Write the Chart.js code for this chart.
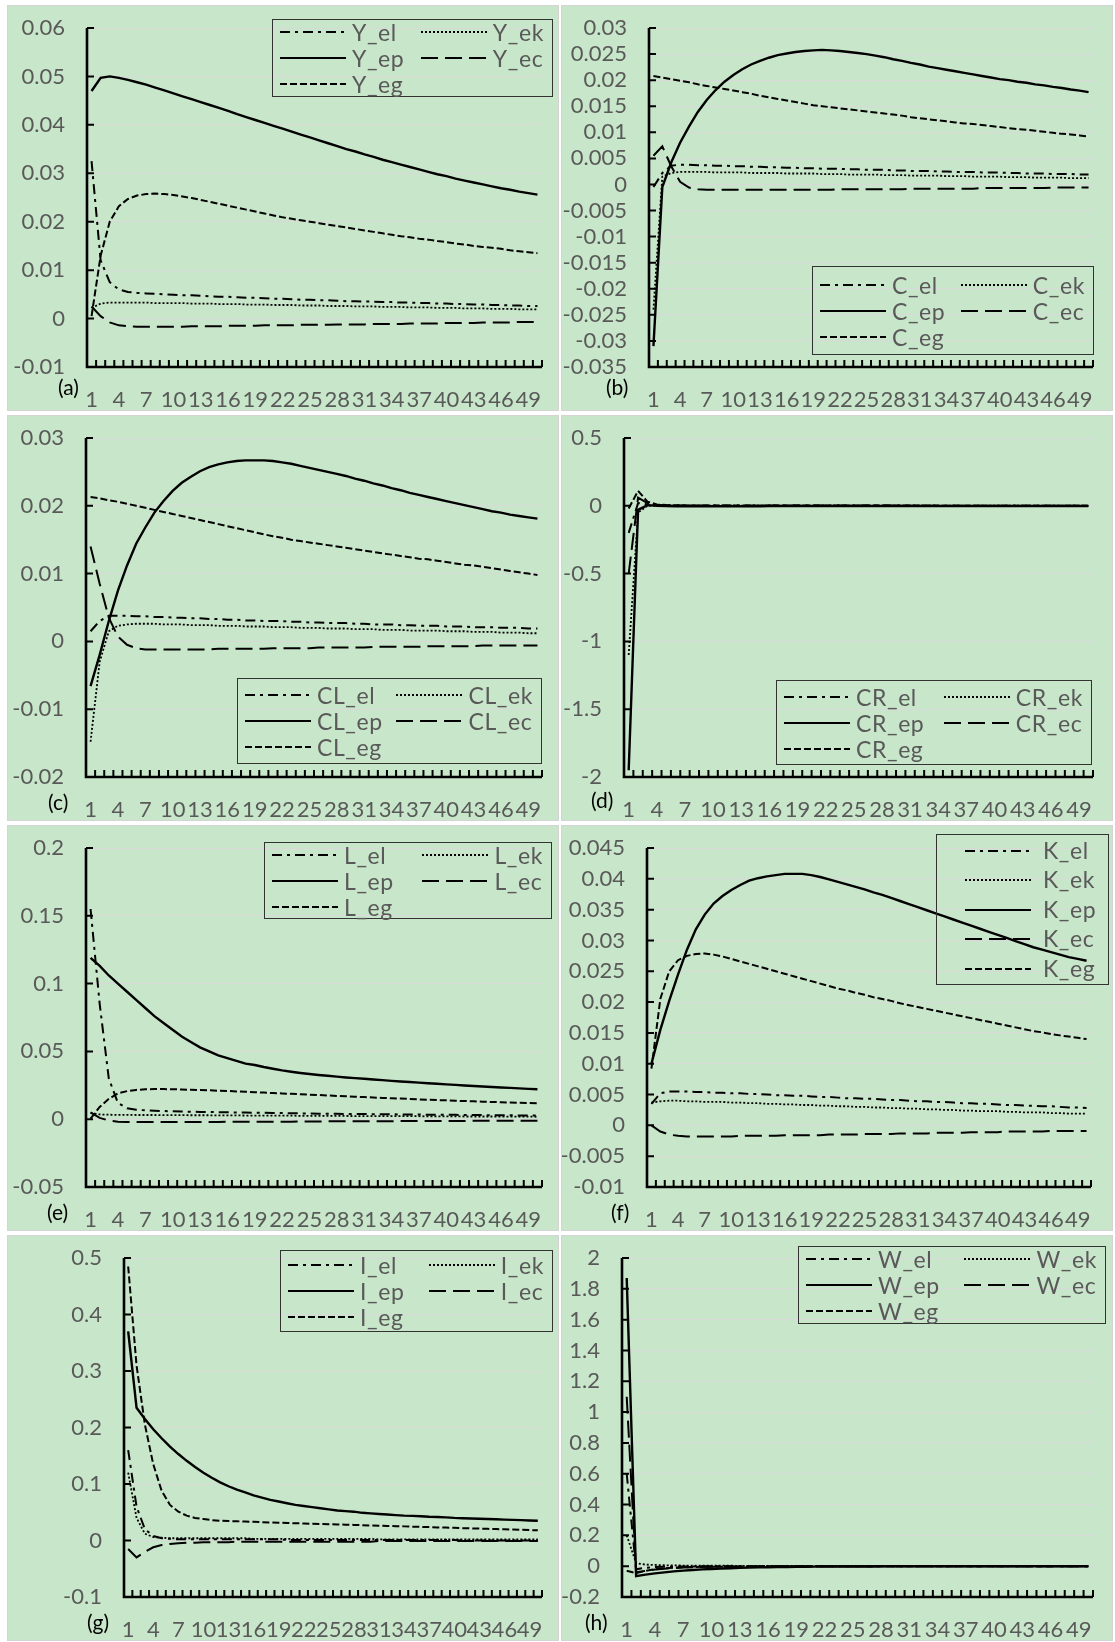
<!DOCTYPE html>
<html>
<head>
<meta charset="utf-8">
<script src="https://cdn.jsdelivr.net/npm/chart.js@4.4.1/dist/chart.umd.min.js"></script>
<style>
  body { margin: 0; background: #fff; width: 1115px; height: 1642px; position: relative; overflow: hidden; font-family: Lato, sans-serif; }
  .panel { position: absolute; width: 550px; height: 404px; background: #c8e6c9; box-shadow: 0 0 0 1px #d4d4d4; }
  .panel canvas { position: absolute; left: 0; top: 0; }
  .tag { position: absolute; font-size: 21px; line-height: 21px; color: #000; }
  .legend { position: absolute; box-sizing: border-box; border: 1px solid #333; display: grid; align-content: center; align-items: center; color: #595959; font-size: 23px; letter-spacing: 0.6px; line-height: 26px; }
  .legend.two { grid-template-columns: 66px 1fr 66px auto; column-gap: 6px; padding: 0 8px 0 7px; }
  .legend.one { grid-template-columns: 66px auto; column-gap: 12px; padding: 0 0 0 28px; line-height: 29.5px; }
  .legend svg { display: block; }
</style>
</head>
<body>
<script>
// periods on the x axis
const periods = ['1','2','3','4','5','6','7','8','9','10','11','12','13','14','15','16','17','18','19','20',
  '21','22','23','24','25','26','27','28','29','30','31','32','33','34','35','36','37','38','39','40',
  '41','42','43','44','45','46','47','48','49','50'];

// (a) Y
const Y_el = [0.0325,0.0120,0.0075,0.0060,0.0055,0.0053,0.0052,0.0051,0.0050,0.0049,
  0.0048,0.0048,0.0047,0.0046,0.0045,0.0045,0.0044,0.0043,0.0043,0.0042,
  0.0041,0.0041,0.0040,0.0039,0.0039,0.0038,0.0038,0.0037,0.0036,0.0036,
  0.0035,0.0035,0.0034,0.0034,0.0033,0.0033,0.0032,0.0032,0.0031,0.0031,
  0.0030,0.0030,0.0029,0.0029,0.0028,0.0028,0.0027,0.0027,0.0026,0.0026];
const Y_ek = [0.0022,0.0031,0.0033,0.0033,0.0033,0.0033,0.0033,0.0032,0.0032,0.0032,
  0.0032,0.0031,0.0031,0.0031,0.0030,0.0030,0.0030,0.0029,0.0029,0.0029,
  0.0028,0.0028,0.0028,0.0027,0.0027,0.0027,0.0026,0.0026,0.0026,0.0025,
  0.0025,0.0025,0.0024,0.0024,0.0024,0.0023,0.0023,0.0023,0.0022,0.0022,
  0.0022,0.0021,0.0021,0.0021,0.0020,0.0020,0.0020,0.0019,0.0019,0.0019];
const Y_ep = [0.0470,0.0497,0.0500,0.0497,0.0493,0.0488,0.0483,0.0477,0.0471,0.0465,
  0.0459,0.0453,0.0447,0.0441,0.0435,0.0429,0.0422,0.0416,0.0410,0.0404,
  0.0398,0.0392,0.0386,0.0380,0.0374,0.0368,0.0362,0.0356,0.0350,0.0345,
  0.0339,0.0334,0.0328,0.0323,0.0318,0.0313,0.0308,0.0303,0.0298,0.0294,
  0.0289,0.0285,0.0281,0.0277,0.0273,0.0269,0.0266,0.0262,0.0259,0.0256];
const Y_ec = [0.0025,0.0005,-0.0008,-0.0014,-0.0016,-0.0017,-0.0017,-0.0017,-0.0017,-0.0017,
  -0.0017,-0.0016,-0.0016,-0.0016,-0.0016,-0.0015,-0.0015,-0.0015,-0.0015,-0.0014,
  -0.0014,-0.0014,-0.0014,-0.0013,-0.0013,-0.0013,-0.0013,-0.0012,-0.0012,-0.0012,
  -0.0012,-0.0011,-0.0011,-0.0011,-0.0011,-0.0010,-0.0010,-0.0010,-0.0010,-0.0009,
  -0.0009,-0.0009,-0.0009,-0.0008,-0.0008,-0.0008,-0.0008,-0.0007,-0.0007,-0.0007];
const Y_eg = [0.0005,0.0130,0.0200,0.0232,0.0247,0.0254,0.0257,0.0258,0.0257,0.0255,
  0.0252,0.0249,0.0245,0.0241,0.0237,0.0233,0.0229,0.0225,0.0221,0.0217,
  0.0213,0.0209,0.0206,0.0203,0.0200,0.0197,0.0194,0.0191,0.0188,0.0185,
  0.0182,0.0179,0.0176,0.0173,0.0170,0.0168,0.0165,0.0163,0.0160,0.0158,
  0.0155,0.0153,0.0150,0.0148,0.0146,0.0144,0.0141,0.0139,0.0137,0.0135];

// (b) C
const C_el = [-0.0005,0.0022,0.0036,0.0038,0.0038,0.0037,0.0037,0.0036,0.0036,0.0035,
  0.0035,0.0034,0.0034,0.0033,0.0033,0.0032,0.0032,0.0031,0.0031,0.0030,
  0.0030,0.0030,0.0029,0.0029,0.0028,0.0028,0.0028,0.0027,0.0027,0.0026,
  0.0026,0.0026,0.0025,0.0025,0.0024,0.0024,0.0024,0.0023,0.0023,0.0023,
  0.0022,0.0022,0.0021,0.0021,0.0021,0.0020,0.0020,0.0020,0.0019,0.0019];
const C_ek = [-0.0240,0.0015,0.0022,0.0024,0.0024,0.0024,0.0024,0.0023,0.0023,0.0023,
  0.0023,0.0022,0.0022,0.0022,0.0022,0.0021,0.0021,0.0021,0.0021,0.0020,
  0.0020,0.0020,0.0019,0.0019,0.0019,0.0019,0.0018,0.0018,0.0018,0.0017,
  0.0017,0.0017,0.0017,0.0016,0.0016,0.0016,0.0015,0.0015,0.0015,0.0015,
  0.0014,0.0014,0.0014,0.0013,0.0013,0.0013,0.0013,0.0012,0.0012,0.0012];
const C_ep = [-0.0310,-0.0005,0.0042,0.0080,0.0111,0.0139,0.0162,0.0181,0.0197,0.0210,
  0.0221,0.0230,0.0237,0.0243,0.0248,0.0251,0.0254,0.0256,0.0257,0.0258,
  0.0257,0.0256,0.0254,0.0252,0.0250,0.0247,0.0244,0.0240,0.0237,0.0233,
  0.0230,0.0226,0.0223,0.0220,0.0217,0.0214,0.0211,0.0208,0.0205,0.0202,
  0.0200,0.0197,0.0195,0.0192,0.0190,0.0187,0.0185,0.0182,0.0180,0.0177];
const C_ec = [0.0055,0.0073,0.0035,0.0005,-0.0006,-0.0009,-0.0010,-0.0010,-0.0010,-0.0010,
  -0.0010,-0.0010,-0.0010,-0.0010,-0.0010,-0.0010,-0.0010,-0.0010,-0.0010,-0.0010,
  -0.0010,-0.0009,-0.0009,-0.0009,-0.0009,-0.0009,-0.0009,-0.0009,-0.0009,-0.0008,
  -0.0008,-0.0008,-0.0008,-0.0008,-0.0008,-0.0008,-0.0008,-0.0007,-0.0007,-0.0007,
  -0.0007,-0.0007,-0.0007,-0.0007,-0.0007,-0.0006,-0.0006,-0.0006,-0.0006,-0.0006];
const C_eg = [0.0208,0.0205,0.0202,0.0199,0.0196,0.0192,0.0189,0.0186,0.0183,0.0180,
  0.0177,0.0174,0.0170,0.0167,0.0164,0.0161,0.0158,0.0155,0.0152,0.0150,
  0.0148,0.0146,0.0144,0.0142,0.0140,0.0138,0.0136,0.0134,0.0132,0.0129,
  0.0127,0.0125,0.0123,0.0121,0.0119,0.0117,0.0116,0.0114,0.0112,0.0110,
  0.0108,0.0106,0.0105,0.0103,0.0101,0.0099,0.0097,0.0096,0.0094,0.0092];

// (c) CL
const CL_el = [0.0015,0.0030,0.0038,0.0038,0.0038,0.0037,0.0037,0.0036,0.0036,0.0035,
  0.0035,0.0034,0.0034,0.0033,0.0033,0.0032,0.0032,0.0031,0.0031,0.0030,
  0.0030,0.0030,0.0029,0.0029,0.0028,0.0028,0.0027,0.0027,0.0027,0.0026,
  0.0026,0.0025,0.0025,0.0025,0.0024,0.0024,0.0023,0.0023,0.0023,0.0022,
  0.0022,0.0022,0.0021,0.0021,0.0021,0.0020,0.0020,0.0020,0.0019,0.0019];
const CL_ek = [-0.0148,-0.0030,0.0015,0.0023,0.0025,0.0026,0.0026,0.0026,0.0025,0.0025,
  0.0025,0.0024,0.0024,0.0024,0.0023,0.0023,0.0023,0.0022,0.0022,0.0022,
  0.0021,0.0021,0.0021,0.0020,0.0020,0.0020,0.0019,0.0019,0.0019,0.0018,
  0.0018,0.0018,0.0017,0.0017,0.0017,0.0016,0.0016,0.0016,0.0016,0.0015,
  0.0015,0.0015,0.0014,0.0014,0.0014,0.0013,0.0013,0.0013,0.0012,0.0012];
const CL_ep = [-0.0066,-0.0020,0.0030,0.0075,0.0112,0.0144,0.0168,0.0190,0.0207,0.0222,
  0.0234,0.0243,0.0251,0.0257,0.0261,0.0264,0.0266,0.0267,0.0267,0.0267,
  0.0266,0.0264,0.0262,0.0259,0.0256,0.0253,0.0250,0.0247,0.0244,0.0240,
  0.0237,0.0233,0.0230,0.0226,0.0223,0.0219,0.0216,0.0213,0.0210,0.0207,
  0.0204,0.0201,0.0198,0.0195,0.0192,0.0190,0.0187,0.0185,0.0183,0.0181];
const CL_ec = [0.0140,0.0085,0.0035,0.0007,-0.0005,-0.0010,-0.0012,-0.0012,-0.0012,-0.0012,
  -0.0012,-0.0012,-0.0012,-0.0012,-0.0011,-0.0011,-0.0011,-0.0011,-0.0011,-0.0011,
  -0.0010,-0.0010,-0.0010,-0.0010,-0.0010,-0.0009,-0.0009,-0.0009,-0.0009,-0.0009,
  -0.0009,-0.0008,-0.0008,-0.0008,-0.0008,-0.0008,-0.0008,-0.0007,-0.0007,-0.0007,
  -0.0007,-0.0007,-0.0007,-0.0006,-0.0006,-0.0006,-0.0006,-0.0006,-0.0006,-0.0006];
const CL_eg = [0.0213,0.0211,0.0208,0.0206,0.0203,0.0200,0.0197,0.0194,0.0191,0.0188,
  0.0185,0.0182,0.0179,0.0176,0.0173,0.0170,0.0167,0.0164,0.0161,0.0158,
  0.0155,0.0153,0.0150,0.0148,0.0146,0.0144,0.0142,0.0140,0.0138,0.0136,
  0.0134,0.0132,0.0130,0.0128,0.0126,0.0124,0.0122,0.0121,0.0119,0.0117,
  0.0115,0.0113,0.0112,0.0110,0.0108,0.0106,0.0104,0.0102,0.0100,0.0098];

// (d) CR
const CR_el = [-0.200,0.020,0.010,0.005,0.004,0.003,0.003,0.002,0.002,0.002,
  0.002,0.002,0.002,0.002,0.002,0.002,0.002,0.002,0.002,0.002,
  0.002,0.002,0.002,0.002,0.002,0.002,0.002,0.002,0.002,0.002,
  0.001,0.001,0.001,0.001,0.001,0.001,0.001,0.001,0.001,0.001,
  0.001,0.001,0.001,0.001,0.001,0.001,0.001,0.001,0.001,0.001];
const CR_ek = [-1.100,-0.050,0.000,0.002,0.002,0.002,0.002,0.002,0.002,0.002,
  0.002,0.002,0.002,0.002,0.002,0.002,0.002,0.002,0.002,0.001,
  0.001,0.001,0.001,0.001,0.001,0.001,0.001,0.001,0.001,0.001,
  0.001,0.001,0.001,0.001,0.001,0.001,0.001,0.001,0.001,0.001,
  0.001,0.001,0.001,0.001,0.001,0.001,0.001,0.001,0.001,0.001];
const CR_ep = [-1.950,-0.030,0.005,0.000,-0.002,-0.003,-0.003,-0.003,-0.003,-0.003,
  -0.003,-0.003,-0.003,-0.003,-0.003,-0.002,-0.002,-0.002,-0.002,-0.002,
  -0.002,-0.002,-0.002,-0.002,-0.002,-0.002,-0.002,-0.002,-0.002,-0.002,
  -0.001,-0.001,-0.001,-0.001,-0.001,-0.001,-0.001,-0.001,-0.001,-0.001,
  -0.001,-0.001,-0.001,-0.001,-0.001,-0.001,-0.001,-0.001,-0.001,-0.001];
const CR_ec = [-0.500,0.060,0.020,0.005,0.002,0.001,0.000,0.000,-0.001,-0.001,
  -0.001,-0.001,-0.001,-0.001,-0.001,-0.001,-0.001,-0.001,-0.001,-0.001,
  -0.001,-0.001,-0.001,-0.001,-0.001,-0.001,-0.001,-0.001,-0.001,-0.001,
  -0.001,-0.001,-0.001,-0.001,-0.001,-0.001,-0.001,-0.001,-0.001,-0.001,
  -0.001,-0.001,-0.001,-0.001,-0.001,-0.001,-0.001,-0.001,-0.001,-0.001];
const CR_eg = [-0.020,0.110,0.030,0.010,0.005,0.004,0.003,0.003,0.003,0.003,
  0.003,0.003,0.003,0.003,0.003,0.002,0.002,0.002,0.002,0.002,
  0.002,0.002,0.002,0.002,0.002,0.002,0.002,0.002,0.002,0.002,
  0.002,0.002,0.002,0.001,0.001,0.001,0.001,0.001,0.001,0.001,
  0.001,0.001,0.001,0.001,0.001,0.001,0.001,0.001,0.001,0.001];

// (e) L
const L_el = [0.155,0.085,0.030,0.012,0.0080,0.0070,0.0065,0.0062,0.0060,0.0058,
  0.0056,0.0055,0.0054,0.0053,0.0052,0.0051,0.0050,0.0049,0.0048,0.0047,
  0.0046,0.0045,0.0044,0.0043,0.0042,0.0041,0.0041,0.0040,0.0039,0.0038,
  0.0038,0.0037,0.0036,0.0036,0.0035,0.0034,0.0034,0.0033,0.0033,0.0032,
  0.0032,0.0031,0.0031,0.0030,0.0030,0.0029,0.0029,0.0028,0.0028,0.0027];
const L_ek = [0.0045,0.0035,0.0033,0.0032,0.0032,0.0031,0.0031,0.0031,0.0030,0.0030,
  0.0030,0.0029,0.0029,0.0029,0.0028,0.0028,0.0028,0.0027,0.0027,0.0027,
  0.0026,0.0026,0.0026,0.0025,0.0025,0.0025,0.0024,0.0024,0.0024,0.0023,
  0.0023,0.0023,0.0023,0.0022,0.0022,0.0022,0.0022,0.0021,0.0021,0.0021,
  0.0021,0.0020,0.0020,0.0020,0.0020,0.0019,0.0019,0.0019,0.0019,0.0018];
const L_ep = [0.119,0.113,0.106,0.100,0.094,0.088,0.082,0.076,0.071,0.066,
  0.061,0.057,0.053,0.050,0.047,0.045,0.043,0.041,0.040,0.0385,
  0.0372,0.0360,0.0350,0.0341,0.0333,0.0326,0.0320,0.0314,0.0308,0.0303,
  0.0298,0.0293,0.0288,0.0283,0.0278,0.0274,0.0270,0.0265,0.0261,0.0257,
  0.0253,0.0249,0.0245,0.0241,0.0238,0.0234,0.0231,0.0227,0.0224,0.0221];
const L_ec = [0.0050,0.0010,-0.0010,-0.0018,-0.0020,-0.0021,-0.0021,-0.0021,-0.0021,-0.0021,
  -0.0020,-0.0020,-0.0020,-0.0020,-0.0020,-0.0019,-0.0019,-0.0019,-0.0019,-0.0018,
  -0.0018,-0.0018,-0.0018,-0.0017,-0.0017,-0.0017,-0.0016,-0.0016,-0.0016,-0.0016,
  -0.0015,-0.0015,-0.0015,-0.0015,-0.0014,-0.0014,-0.0014,-0.0014,-0.0013,-0.0013,
  -0.0013,-0.0013,-0.0012,-0.0012,-0.0012,-0.0012,-0.0011,-0.0011,-0.0011,-0.0011];
const L_eg = [0.0005,0.0090,0.0150,0.0190,0.0207,0.0216,0.0220,0.0222,0.0222,0.0221,
  0.0219,0.0217,0.0215,0.0213,0.0210,0.0208,0.0205,0.0202,0.0199,0.0196,
  0.0193,0.0190,0.0187,0.0184,0.0181,0.0178,0.0175,0.0172,0.0169,0.0166,
  0.0163,0.0160,0.0157,0.0154,0.0152,0.0149,0.0146,0.0144,0.0141,0.0139,
  0.0136,0.0134,0.0132,0.0129,0.0127,0.0125,0.0123,0.0121,0.0119,0.0117];

// (f) K
const K_el = [0.0035,0.0052,0.0055,0.0055,0.0055,0.0054,0.0054,0.0053,0.0053,0.0052,
  0.0052,0.0051,0.0051,0.0050,0.0049,0.0049,0.0048,0.0048,0.0047,0.0046,
  0.0046,0.0045,0.0044,0.0044,0.0043,0.0043,0.0042,0.0041,0.0041,0.0040,
  0.0039,0.0039,0.0038,0.0038,0.0037,0.0036,0.0036,0.0035,0.0035,0.0034,
  0.0033,0.0033,0.0032,0.0032,0.0031,0.0031,0.0030,0.0029,0.0029,0.0028];
const K_ek = [0.0037,0.0039,0.0040,0.0040,0.0039,0.0039,0.0038,0.0038,0.0038,0.0037,
  0.0037,0.0036,0.0036,0.0035,0.0035,0.0034,0.0034,0.0033,0.0033,0.0032,
  0.0032,0.0031,0.0031,0.0030,0.0030,0.0029,0.0029,0.0028,0.0028,0.0027,
  0.0027,0.0026,0.0026,0.0025,0.0025,0.0024,0.0024,0.0023,0.0023,0.0023,
  0.0022,0.0022,0.0021,0.0021,0.0021,0.0020,0.0020,0.0019,0.0019,0.0019];
const K_ep = [0.0100,0.0155,0.0202,0.0245,0.0285,0.0318,0.0342,0.0360,0.0372,0.0382,
  0.0390,0.0397,0.0401,0.0404,0.0406,0.0408,0.0408,0.0408,0.0406,0.0403,
  0.0399,0.0395,0.0391,0.0387,0.0383,0.0378,0.0374,0.0369,0.0364,0.0359,
  0.0354,0.0349,0.0344,0.0339,0.0334,0.0329,0.0324,0.0319,0.0314,0.0309,
  0.0304,0.0299,0.0294,0.0289,0.0285,0.0281,0.0277,0.0273,0.0270,0.0267];
const K_ec = [0.0000,-0.0010,-0.0015,-0.0017,-0.0018,-0.0018,-0.0018,-0.0018,-0.0018,-0.0018,
  -0.0017,-0.0017,-0.0017,-0.0017,-0.0017,-0.0016,-0.0016,-0.0016,-0.0016,-0.0016,
  -0.0015,-0.0015,-0.0015,-0.0015,-0.0014,-0.0014,-0.0014,-0.0014,-0.0013,-0.0013,
  -0.0013,-0.0013,-0.0012,-0.0012,-0.0012,-0.0012,-0.0011,-0.0011,-0.0011,-0.0011,
  -0.0010,-0.0010,-0.0010,-0.0010,-0.0010,-0.0009,-0.0009,-0.0009,-0.0009,-0.0009];
const K_eg = [0.0092,0.0205,0.0250,0.0268,0.0275,0.0278,0.0279,0.0277,0.0274,0.0270,
  0.0266,0.0262,0.0258,0.0254,0.0250,0.0246,0.0242,0.0238,0.0234,0.0230,
  0.0226,0.0222,0.0219,0.0215,0.0212,0.0208,0.0205,0.0202,0.0198,0.0195,
  0.0192,0.0189,0.0186,0.0183,0.0180,0.0177,0.0174,0.0171,0.0168,0.0165,
  0.0162,0.0159,0.0156,0.0153,0.0151,0.0148,0.0146,0.0144,0.0142,0.0140];

// (g) I
const I_el = [0.160,0.060,0.020,0.008,0.004,0.003,0.002,0.002,0.002,0.002,
  0.002,0.002,0.002,0.002,0.002,0.002,0.002,0.002,0.002,0.001,
  0.001,0.001,0.001,0.001,0.001,0.001,0.001,0.001,0.001,0.001,
  0.001,0.001,0.001,0.001,0.001,0.001,0.001,0.001,0.001,0.001,
  0.000,0.000,0.000,0.000,0.000,0.000,0.000,0.000,0.000,0.000];
const I_ek = [0.120,0.040,0.012,0.006,0.005,0.004,0.004,0.004,0.004,0.004,
  0.004,0.004,0.004,0.004,0.004,0.003,0.003,0.003,0.003,0.003,
  0.003,0.003,0.003,0.003,0.003,0.003,0.003,0.003,0.003,0.003,
  0.002,0.002,0.002,0.002,0.002,0.002,0.002,0.002,0.002,0.002,
  0.002,0.002,0.002,0.002,0.002,0.002,0.002,0.002,0.002,0.002];
const I_ep = [0.370,0.235,0.215,0.197,0.181,0.166,0.153,0.141,0.130,0.120,
  0.111,0.103,0.096,0.090,0.085,0.080,0.076,0.072,0.069,0.066,
  0.063,0.061,0.059,0.057,0.055,0.053,0.052,0.051,0.049,0.048,
  0.047,0.046,0.045,0.044,0.0435,0.043,0.042,0.0415,0.041,0.040,
  0.0395,0.039,0.0385,0.038,0.0375,0.037,0.0365,0.036,0.0355,0.035];
const I_ec = [-0.015,-0.030,-0.020,-0.012,-0.008,-0.006,-0.005,-0.004,-0.004,-0.003,
  -0.003,-0.003,-0.003,-0.002,-0.002,-0.002,-0.002,-0.002,-0.002,-0.002,
  -0.002,-0.002,-0.002,-0.002,-0.002,-0.002,-0.002,-0.002,-0.002,-0.002,
  -0.001,-0.001,-0.001,-0.001,-0.001,-0.001,-0.001,-0.001,-0.001,-0.001,
  -0.001,-0.001,-0.001,-0.001,-0.001,-0.001,-0.001,-0.001,-0.001,-0.001];
const I_eg = [0.485,0.310,0.205,0.135,0.088,0.063,0.051,0.044,0.040,0.038,
  0.036,0.035,0.0345,0.034,0.0335,0.033,0.0325,0.032,0.0315,0.031,
  0.0306,0.0302,0.0297,0.0293,0.0289,0.0284,0.0280,0.0276,0.0271,0.0267,
  0.0263,0.0258,0.0254,0.0250,0.0245,0.0241,0.0237,0.0232,0.0228,0.0224,
  0.0219,0.0215,0.0211,0.0206,0.0202,0.0198,0.0193,0.0189,0.0185,0.0180];

// (h) W
const W_el = [0.600,-0.020,-0.010,-0.006,-0.004,-0.003,-0.002,-0.002,-0.001,-0.001,
  -0.001,-0.001,-0.001,-0.001,-0.001,0.000,0.000,0.000,0.000,0.000,
  0.000,0.000,0.000,0.000,0.000,0.000,0.000,0.000,0.000,0.000,
  0.000,0.000,0.000,0.000,0.000,0.000,0.000,0.000,0.000,0.000,
  0.000,0.000,0.000,0.000,0.000,0.000,0.000,0.000,0.000,0.000];
const W_ek = [0.200,0.020,0.010,0.008,0.006,0.005,0.004,0.004,0.003,0.003,
  0.003,0.003,0.002,0.002,0.002,0.002,0.002,0.002,0.002,0.002,
  0.001,0.001,0.001,0.001,0.001,0.001,0.001,0.001,0.001,0.001,
  0.001,0.001,0.001,0.001,0.001,0.001,0.001,0.001,0.001,0.001,
  0.001,0.001,0.001,0.001,0.001,0.001,0.001,0.001,0.001,0.001];
const W_ep = [1.870,-0.065,-0.055,-0.047,-0.040,-0.034,-0.029,-0.025,-0.021,-0.018,
  -0.015,-0.013,-0.011,-0.009,-0.008,-0.007,-0.006,-0.005,-0.004,-0.004,
  -0.003,-0.003,-0.003,-0.002,-0.002,-0.002,-0.002,-0.001,-0.001,-0.001,
  -0.001,-0.001,-0.001,-0.001,-0.001,-0.001,-0.001,-0.001,-0.001,-0.001,
  0.000,0.000,0.000,0.000,0.000,0.000,0.000,0.000,0.000,0.000];
const W_ec = [1.100,-0.040,-0.030,-0.022,-0.016,-0.012,-0.009,-0.007,-0.005,-0.004,
  -0.003,-0.003,-0.002,-0.002,-0.002,-0.001,-0.001,-0.001,-0.001,-0.001,
  -0.001,-0.001,-0.001,-0.001,-0.001,0.000,0.000,0.000,0.000,0.000,
  0.000,0.000,0.000,0.000,0.000,0.000,0.000,0.000,0.000,0.000,
  0.000,0.000,0.000,0.000,0.000,0.000,0.000,0.000,0.000,0.000];
const W_eg = [-0.030,-0.045,-0.030,-0.020,-0.014,-0.010,-0.007,-0.005,-0.004,-0.003,
  -0.003,-0.002,-0.002,-0.002,-0.001,-0.001,-0.001,-0.001,-0.001,-0.001,
  -0.001,-0.001,-0.001,0.000,0.000,0.000,0.000,0.000,0.000,0.000,
  0.000,0.000,0.000,0.000,0.000,0.000,0.000,0.000,0.000,0.000,
  0.000,0.000,0.000,0.000,0.000,0.000,0.000,0.000,0.000,0.000];

// y axis ranges: [min, max, step]
const rangeY = [-0.01, 0.06, 0.01];
const rangeC = [-0.035, 0.03, 0.005];
const rangeCL = [-0.02, 0.03, 0.01];
const rangeCR = [-2, 0.5, 0.5];
const rangeL = [-0.05, 0.2, 0.05];
const rangeK = [-0.01, 0.045, 0.005];
const rangeI = [-0.1, 0.5, 0.1];
const rangeW = [-0.2, 2, 0.2];

const suffixes = ['el', 'ek', 'ep', 'ec', 'eg'];
const dashes = { el: [10, 5, 3, 5], ek: [2, 2], ep: [], ec: [17, 7], eg: [7, 3] };
const widths = { el: 2, ek: 1.8, ep: 2.4, ec: 2, eg: 2 };

const panels = [
  { tag: '(a)', name: 'Y',  data: [Y_el, Y_ek, Y_ep, Y_ec, Y_eg],      range: rangeY,  x: 8,   y: 6,    axis: 79,  padR: 16, tagX: 50, tagY: 370, leg: [264, 13, 281, 78, 2] },
  { tag: '(b)', name: 'C',  data: [C_el, C_ek, C_ep, C_ec, C_eg],      range: rangeC,  x: 562, y: 6,    axis: 87,  padR: 19, tagX: 44, tagY: 370, leg: [250, 260, 282, 89, 2] },
  { tag: '(c)', name: 'CL', data: [CL_el, CL_ek, CL_ep, CL_ec, CL_eg], range: rangeCL, x: 8,   y: 416,  axis: 78,  padR: 16, tagX: 40, tagY: 375, leg: [229, 262, 305, 86, 2] },
  { tag: '(d)', name: 'CR', data: [CR_el, CR_ek, CR_ep, CR_ec, CR_eg], range: rangeCR, x: 562, y: 416,  axis: 62,  padR: 19, tagX: 29, tagY: 373, leg: [214, 264, 316, 85, 2] },
  { tag: '(e)', name: 'L',  data: [L_el, L_ek, L_ep, L_ec, L_eg],      range: rangeL,  x: 8,   y: 826,  axis: 78,  padR: 16, tagX: 39, tagY: 375, leg: [256, 16, 288, 77, 2] },
  { tag: '(f)', name: 'K',  data: [K_el, K_ek, K_ep, K_ec, K_eg],      range: rangeK,  x: 562, y: 826,  axis: 85,  padR: 21, tagX: 49, tagY: 375, leg: [374, 8, 173, 151, 1] },
  { tag: '(g)', name: 'I',  data: [I_el, I_ek, I_ep, I_ec, I_eg],      range: rangeI,  x: 8,   y: 1236, axis: 116, padR: 16, tagX: 79, tagY: 375, leg: [272, 14, 273, 82, 2] },
  { tag: '(h)', name: 'W',  data: [W_el, W_ek, W_ep, W_ec, W_eg],      range: rangeW,  x: 562, y: 1236, axis: 60,  padR: 19, tagX: 23, tagY: 375, leg: [236, 10, 308, 78, 2] }
];

// axis lines with inside tick marks, drawn under the series like the original
const insideAxes = {
  id: 'insideAxes',
  beforeDatasetsDraw(chart) {
    const { ctx, chartArea: a, scales: { x, y } } = chart;
    ctx.save();
    ctx.strokeStyle = '#000';
    ctx.lineWidth = 2.6;
    ctx.beginPath();
    ctx.moveTo(a.left, a.top);
    ctx.lineTo(a.left, a.bottom);
    ctx.lineTo(a.right, a.bottom);
    ctx.stroke();
    ctx.lineWidth = 2;
    ctx.beginPath();
    y.ticks.forEach(t => {
      const py = y.getPixelForValue(t.value);
      ctx.moveTo(a.left, py);
      ctx.lineTo(a.left + 7, py);
    });
    const half = (x.getPixelForValue(1) - x.getPixelForValue(0)) / 2;
    for (let i = 0; i <= periods.length; i++) {
      const px = i < periods.length ? x.getPixelForValue(i) - half : x.getPixelForValue(i - 1) + half;
      ctx.moveTo(px, a.bottom);
      ctx.lineTo(px, a.bottom - 7);
    }
    ctx.stroke();
    ctx.restore();
  }
};

function sampleSvg(key) {
  return '<svg width="66" height="10"><line x1="0" y1="5" x2="66" y2="5" stroke="#000" stroke-width="' +
    (key === 'ep' ? 2.2 : 2) + '" stroke-dasharray="' + (dashes[key].length ? dashes[key].join(',') : 'none') + '"/></svg>';
}

panels.forEach(p => {
  const box = document.createElement('div');
  box.className = 'panel';
  box.style.left = p.x + 'px';
  box.style.top = p.y + 'px';
  document.body.appendChild(box);

  const canvas = document.createElement('canvas');
  canvas.width = 550;
  canvas.height = 404;
  box.appendChild(canvas);

  const tag = document.createElement('div');
  tag.className = 'tag';
  tag.textContent = p.tag;
  tag.style.left = p.tagX + 'px';
  tag.style.top = p.tagY + 'px';
  box.appendChild(tag);

  const leg = document.createElement('div');
  leg.className = 'legend ' + (p.leg[4] === 2 ? 'two' : 'one');
  leg.style.left = p.leg[0] + 'px';
  leg.style.top = p.leg[1] + 'px';
  leg.style.width = p.leg[2] + 'px';
  leg.style.height = p.leg[3] + 'px';
  leg.innerHTML = suffixes.map(s => sampleSvg(s) + '<span>' + p.name + '_' + s + '</span>').join('');
  box.appendChild(leg);

  new Chart(canvas, {
    type: 'line',
    data: {
      labels: periods,
      datasets: suffixes.map((s, i) => ({
        label: p.name + '_' + s,
        data: p.data[i],
        borderColor: '#000',
        borderWidth: widths[s],
        borderDash: dashes[s],
        pointRadius: 0,
        tension: 0,
        fill: false
      }))
    },
    options: {
      responsive: false,
      animation: false,
      layout: { padding: { top: 22, right: p.padR, left: 0, bottom: 0 } },
      plugins: { legend: { display: false }, tooltip: { enabled: false } },
      scales: {
        x: {
          offset: true,
          grid: { display: false },
          border: { display: false },
          ticks: {
            autoSkip: false, maxRotation: 0, padding: 12, color: '#595959',
            font: { family: 'Lato', size: 22 },
            callback: (v, i) => (i % 3 === 0 ? periods[i] : '')
          },
          afterFit: s => { s.height = 43; s.paddingLeft = 0; s.paddingRight = 0; }
        },
        y: {
          min: p.range[0], max: p.range[1],
          grid: { color: '#d9d9d9', lineWidth: 1, drawTicks: false },
          border: { display: false },
          ticks: {
            stepSize: p.range[2], maxTicksLimit: 30, autoSkip: false, padding: 22, color: '#595959',
            font: { family: 'Lato', size: 22 },
            callback: v => String(parseFloat(Number(v).toFixed(4)))
          },
          afterFit: s => { s.width = p.axis; s.paddingTop = 0; s.paddingBottom = 0; }
        }
      }
    },
    plugins: [insideAxes]
  });
});
</script>
</body>
</html>
